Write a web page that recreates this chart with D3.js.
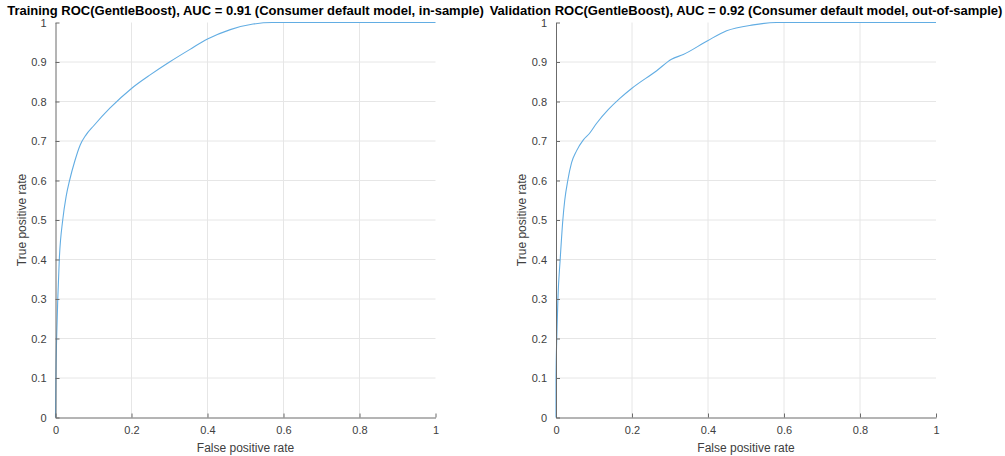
<!DOCTYPE html>
<head>
  <title>ROC GentleBoost</title>
  <meta charset="utf-8">
  <script type="text/javascript" src="https://cdn.jsdelivr.net/npm/d3@7"></script>
  <style>
    body { margin: 0; background: #fff; }
    text { font-family: "Liberation Sans", Arial, sans-serif; }
  </style>
</head>
<body>
<script>
// values
var trainTitle = "Training ROC(GentleBoost), AUC = 0.91 (Consumer default model, in-sample)";
var validTitle = "Validation ROC(GentleBoost), AUC = 0.92 (Consumer default model, out-of-sample)";

var trainFpr = [0, 0.001, 0.003, 0.006, 0.010, 0.019, 0.028, 0.037, 0.051, 0.065, 0.080, 0.100, 0.143, 0.200, 0.250, 0.300, 0.354, 0.400, 0.460, 0.520, 0.570, 1];
var trainTpr = [0, 0.100, 0.200, 0.300, 0.400, 0.500, 0.560, 0.600, 0.650, 0.690, 0.715, 0.738, 0.783, 0.833, 0.868, 0.900, 0.932, 0.958, 0.982, 0.996, 1.000, 1];

var validFpr = [0, 0.000, 0.002, 0.005, 0.011, 0.018, 0.023, 0.031, 0.041, 0.054, 0.072, 0.088, 0.107, 0.138, 0.168, 0.199, 0.265, 0.304, 0.335, 0.399, 0.449, 0.519, 0.580, 1];
var validTpr = [0, 0.100, 0.200, 0.300, 0.400, 0.500, 0.550, 0.600, 0.645, 0.675, 0.703, 0.719, 0.745, 0.780, 0.808, 0.833, 0.878, 0.907, 0.919, 0.954, 0.979, 0.994, 1.000, 1];

var xTicks = [0, 0.2, 0.4, 0.6, 0.8, 1];
var yTicks = [0, 0.1, 0.2, 0.3, 0.4, 0.5, 0.6, 0.7, 0.8, 0.9, 1];

var W = 1005, H = 456;
var svg = d3.select("body").append("svg")
  .attr("width", W).attr("height", H);

function drawPanel(left, title, fpr, tpr) {
  var x = d3.scaleLinear().domain([0, 1]).range([left, left + 380]);
  var y = d3.scaleLinear().domain([0, 1]).range([417.5, 22.5]);
  var g = svg.append("g");

  // grid
  g.selectAll(".vg").data(xTicks.filter(function(d) { return d > 0 && d < 1; }))
    .enter().append("line")
    .attr("x1", function(d) { return x(d); }).attr("x2", function(d) { return x(d); })
    .attr("y1", y(0)).attr("y2", y(1))
    .attr("stroke", "#e6e6e6").attr("stroke-width", 1);
  g.selectAll(".hg").data(yTicks.filter(function(d) { return d > 0 && d < 1; }))
    .enter().append("line")
    .attr("x1", x(0)).attr("x2", x(1))
    .attr("y1", function(d) { return y(d); }).attr("y2", function(d) { return y(d); })
    .attr("stroke", "#e6e6e6").attr("stroke-width", 1);

  // curve
  var pts = fpr.map(function(f, i) { return [f, tpr[i]]; });
  g.append("path")
    .datum(pts)
    .attr("fill", "none")
    .attr("stroke", "#62ade3")
    .attr("stroke-width", 1.1)
    .attr("d", d3.line().x(function(d) { return x(d[0]); }).y(function(d) { return y(d[1]); }).curve(d3.curveMonotoneX));

  // axes (ticks pointing inward)
  var fmt = function(d) { return d === 0 || d === 1 ? d3.format("d")(d) : d3.format(".1f")(d); };
  var xa = g.append("g").attr("transform", "translate(0," + y(0) + ")")
    .call(d3.axisBottom(x).tickValues(xTicks).tickSizeInner(-4).tickSizeOuter(0).tickPadding(9).tickFormat(fmt));
  var ya = g.append("g").attr("transform", "translate(" + x(0) + ",0)")
    .call(d3.axisLeft(y).tickValues(yTicks).tickSizeInner(-4).tickSizeOuter(0).tickPadding(9).tickFormat(fmt));
  [xa, ya].forEach(function(a) {
    a.select(".domain").attr("stroke", "#6b6b6b");
    a.selectAll(".tick line").attr("stroke", "#6b6b6b");
    a.selectAll(".tick text").attr("fill", "#404040").style("font-size", "11px")
      .style("font-family", "'Liberation Sans', Arial, sans-serif");
  });

  // labels
  g.append("text")
    .attr("x", x(0.5)).attr("y", 452)
    .attr("text-anchor", "middle").attr("fill", "#404040").style("font-size", "12px")
    .text("False positive rate");
  g.append("text")
    .attr("transform", "translate(" + (left - 30) + "," + y(0.5) + ") rotate(-90)")
    .attr("text-anchor", "middle").attr("fill", "#404040").style("font-size", "12px")
    .text("True positive rate");
  g.append("text")
    .attr("x", x(0.5)).attr("y", 15)
    .attr("text-anchor", "middle").attr("fill", "#000").style("font-size", "13px").style("font-weight", "bold")
    .text(title);
}

drawPanel(55.5, trainTitle, trainFpr, trainTpr);
drawPanel(556, validTitle, validFpr, validTpr);
</script>
</body>
